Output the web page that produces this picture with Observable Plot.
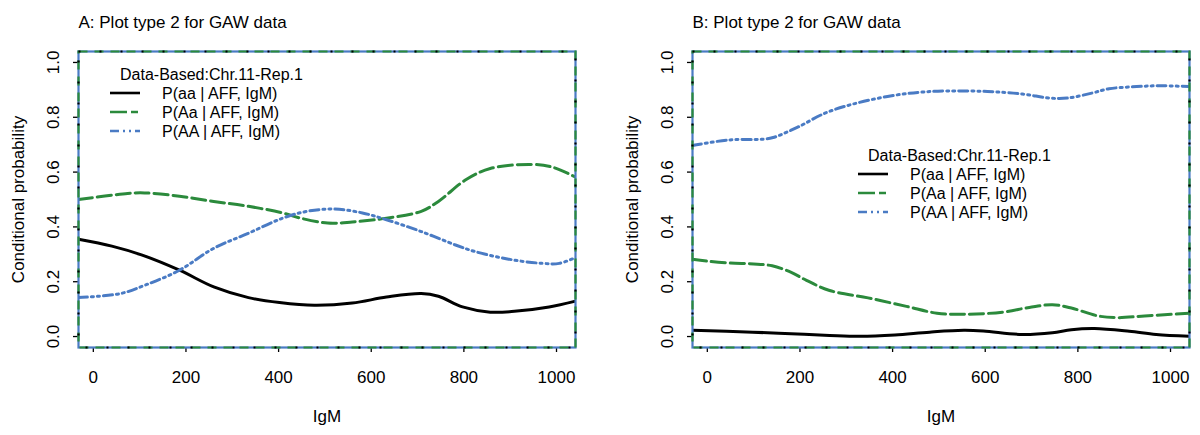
<!DOCTYPE html>
<html><head><meta charset="utf-8">
<script src="https://cdn.jsdelivr.net/npm/d3@7"></script>
<script src="https://cdn.jsdelivr.net/npm/@observablehq/plot@0.6"></script>
<style>
body{margin:0;background:#fff;}
#wrap{display:flex;width:1200px;height:435px;}
svg{font-family:"Liberation Sans",Arial,sans-serif;}
</style>
</head><body><div id="wrap"></div>
<script>
// ---- tick values ----
const xTicks = [0, 200, 400, 600, 800, 1000];
const yTicks = [0, 0.2, 0.4, 0.6, 0.8, 1.0];
const xDomain = [-32, 1041];
const yDomain = [-0.04, 1.04];

// ---- legend labels ----
const legendTitle = "Data-Based:Chr.11-Rep.1";
const seriesNames = ["P(aa | AFF, IgM)", "P(Aa | AFF, IgM)", "P(AA | AFF, IgM)"];

// ---- Panel A data ----
const aX_aa = [-32, 40, 104, 186, 260, 335, 402, 477, 559, 633, 708, 745, 797, 857, 909, 984, 1041];
const aY_aa = [0.355, 0.330, 0.298, 0.242, 0.181, 0.142, 0.124, 0.114, 0.122, 0.144, 0.157, 0.147, 0.108, 0.089, 0.092, 0.108, 0.129];
const aX_Aa = [-32, 74, 111, 186, 260, 335, 409, 447, 506, 559, 633, 708, 745, 805, 857, 946, 991, 1041];
const aY_Aa = [0.500, 0.522, 0.524, 0.512, 0.493, 0.475, 0.451, 0.432, 0.414, 0.418, 0.432, 0.457, 0.493, 0.573, 0.613, 0.628, 0.618, 0.582];
const aX_AA = [-32, 59, 111, 186, 260, 335, 409, 462, 521, 581, 633, 708, 782, 820, 894, 969, 1006, 1041];
const aY_AA = [0.142, 0.157, 0.187, 0.242, 0.322, 0.377, 0.432, 0.457, 0.465, 0.451, 0.426, 0.383, 0.334, 0.312, 0.283, 0.267, 0.267, 0.288];

// ---- Panel B data ----
const bX_aa = [-32, 98, 181, 264, 330, 405, 480, 554, 596, 679, 745, 786, 836, 911, 969, 1041];
const bY_aa = [0.0225, 0.016, 0.010, 0.004, 0.001, 0.006, 0.016, 0.0225, 0.020, 0.0075, 0.014, 0.025, 0.029, 0.019, 0.0075, 0.001];
const bX_Aa = [-32, 0, 50, 100, 140, 180, 214, 264, 347, 430, 496, 554, 637, 695, 745, 786, 844, 886, 944, 1041];
const bY_Aa = [0.282, 0.275, 0.268, 0.265, 0.258, 0.235, 0.205, 0.168, 0.141, 0.110, 0.085, 0.081, 0.089, 0.106, 0.116, 0.104, 0.075, 0.069, 0.075, 0.085];
const bX_AA = [-32, 45, 120, 142, 194, 254, 314, 389, 456, 516, 605, 680, 740, 777, 830, 867, 927, 979, 1041];
const bY_AA = [0.697, 0.717, 0.720, 0.726, 0.763, 0.815, 0.848, 0.876, 0.891, 0.896, 0.894, 0.885, 0.870, 0.870, 0.888, 0.904, 0.912, 0.915, 0.912];

const BLACK = "#000000", GREEN = "#2b8a3c", BLUE = "#4a7bc4";
const styles = [
  {stroke: BLACK, dash: null, w: 3},
  {stroke: GREEN, dash: "14,5", w: 3},
  {stroke: BLUE, dash: "9,4,2,4,2,4", w: 3}
];
const FONT = '"Liberation Sans", Arial, sans-serif';
const FS = 17;

function toRows(xs, ys) { return xs.map((x, i) => ({x, y: ys[i]})); }

function panel(cfg) {
  const series = [toRows(cfg.xaa, cfg.yaa), toRows(cfg.xAa, cfg.yAa), toRows(cfg.xAA, cfg.yAA)];
  const lineMarks = series.map((rows, i) => Plot.line(rows, {
    x: "x", y: "y", curve: "catmull-rom", clip: true,
    stroke: styles[i].stroke, strokeWidth: styles[i].w,
    strokeDasharray: styles[i].dash || undefined
  }));
  const chart = Plot.plot({
    width: 600, height: 435,
    marginLeft: cfg.ml, marginRight: cfg.mr, marginTop: 51, marginBottom: 88,
    x: {domain: xDomain}, y: {domain: yDomain},
    style: {fontFamily: FONT, fontSize: FS + "px", background: "white", color: "black"},
    marks: [
      Plot.axisX(xTicks, {tickSize: 5, tickFormat: () => "", label: null, strokeWidth: 1.3}),
      Plot.axisY(yTicks, {tickSize: 5, tickFormat: () => "", label: null, strokeWidth: 1.3}),
      Plot.text(xTicks, {x: d => d, text: d => String(d), frameAnchor: "bottom", lineAnchor: "middle", textAnchor: "middle", dy: 30, fontSize: FS}),
      Plot.text(yTicks, {y: d => d, text: d => d.toFixed(1), frameAnchor: "left", lineAnchor: "middle", textAnchor: "middle", dx: -25, rotate: -90, fontSize: FS}),
      Plot.text(["Conditional probability"], {frameAnchor: "left", lineAnchor: "middle", textAnchor: "middle", dx: -60, rotate: -90, fontSize: FS}),
      Plot.text(["IgM"], {frameAnchor: "bottom", lineAnchor: "middle", textAnchor: "middle", dy: 69, fontSize: FS}),
      Plot.text([cfg.title], {frameAnchor: "top-left", lineAnchor: "middle", textAnchor: "start", dy: -29, fontSize: FS}),
      ...lineMarks,
      Plot.frame({stroke: BLUE, strokeWidth: 2.2}),
      Plot.frame({stroke: GREEN, strokeWidth: 2.2, strokeDasharray: "9,7"}),
      Plot.frame({stroke: BLACK, strokeWidth: 2.2, strokeDasharray: "2,19"})
    ]
  });
  // legend (positioned relative to the frame)
  const svg = d3.select(chart);
  const g = svg.append("g").attr("transform", `translate(${cfg.ml + cfg.lg.dx},${51 + cfg.lg.dy})`)
    .attr("font-size", 16).attr("font-family", FONT).attr("text-anchor", "start").attr("fill", "black");
  g.append("text").attr("x", 10).attr("y", 0).attr("dy", "0.35em").text(legendTitle);
  seriesNames.forEach((name, i) => {
    const yy = 19 + i * 19;
    const ln = g.append("line").attr("x1", 0).attr("x2", 30).attr("y1", yy).attr("y2", yy)
      .attr("stroke", styles[i].stroke).attr("stroke-width", 2.6);
    if (styles[i].dash) ln.attr("stroke-dasharray", i === 1 ? "17,4,7,4" : "9,4,2,4,2,4");
    g.append("text").attr("x", 52).attr("y", yy).attr("dy", "0.35em").text(name);
  });
  return chart;
}

const wrap = document.getElementById("wrap");
wrap.appendChild(panel({
  title: "A: Plot type 2 for GAW data", ml: 78, mr: 25,
  xaa: aX_aa, yaa: aY_aa, xAa: aX_Aa, yAa: aY_Aa, xAA: aX_AA, yAA: aY_AA,
  lg: {dx: 32, dy: 23}
}));
wrap.appendChild(panel({
  title: "B: Plot type 2 for GAW data", ml: 92, mr: 11,
  xaa: bX_aa, yaa: bY_aa, xAa: bX_Aa, yAa: bY_Aa, xAA: bX_AA, yAA: bY_AA,
  lg: {dx: 166, dy: 104}
}));
</script>
</body></html>
